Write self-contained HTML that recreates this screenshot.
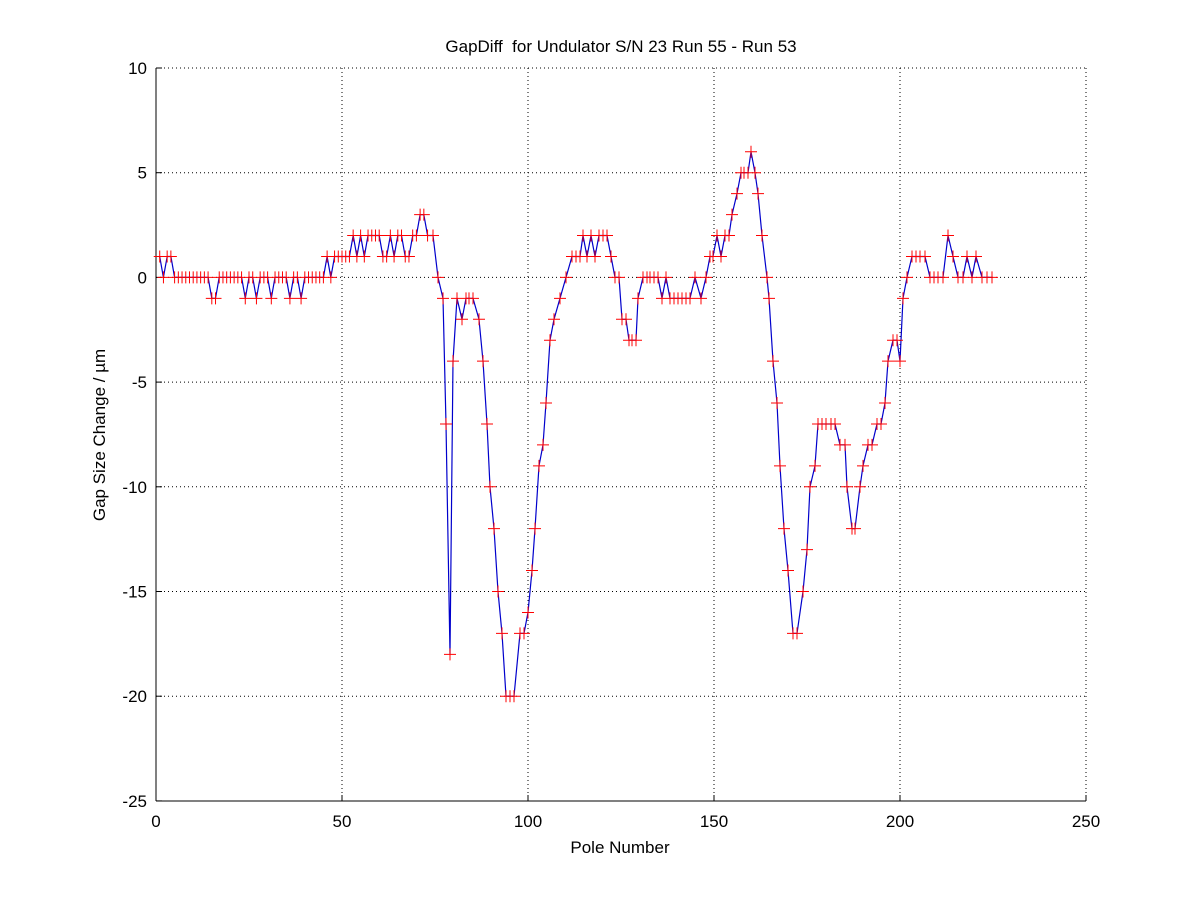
<!DOCTYPE html>
<html><head><meta charset="utf-8"><style>
html,body{margin:0;padding:0;background:#fff;}
svg{display:block;font-family:"Liberation Sans",sans-serif;}
</style></head><body>
<svg id="s" width="1200" height="900" xmlns="http://www.w3.org/2000/svg">
<rect width="1200" height="900" fill="#fff"/>
<text x="621" y="52" font-size="17" text-anchor="middle">GapDiff&#160; for Undulator S/N 23 Run 55 - Run 53</text>
<text x="620" y="853" font-size="17" text-anchor="middle">Pole Number</text>
<text transform="translate(105,435) rotate(-90)" font-size="17" text-anchor="middle">Gap Size Change / µm</text>
<g id="g"></g>
</svg>
<script>
var X0=156,X1=1086,Y0=68,Y1=801;
function yv(v){return 277.4-20.94*v;}
var h='';
var xt=[0,50,100,150,200,250];
for(var i=0;i<xt.length;i++){var x=X0+(X1-X0)*xt[i]/250;
 if(i>0)h+='<line x1="'+x+'" y1="'+Y0+'" x2="'+x+'" y2="'+Y1+'" stroke="#000" stroke-dasharray="1,3"/>';
 h+='<line x1="'+x+'" y1="'+Y1+'" x2="'+x+'" y2="'+(Y1-6)+'" stroke="#000"/>';
 h+='<text x="'+x+'" y="'+(Y1+26)+'" font-size="17" text-anchor="middle">'+xt[i]+'</text>';}
for(var v=10;v>=-25;v-=5){var y=yv(v);
 if(v>-25)h+='<line x1="'+X0+'" y1="'+y+'" x2="'+X1+'" y2="'+y+'" stroke="#000" stroke-dasharray="1,3"/>';
 h+='<line x1="'+X0+'" y1="'+y+'" x2="'+(X0+6)+'" y2="'+y+'" stroke="#000"/>';
 h+='<text x="'+(X0-9)+'" y="'+(y+6)+'" font-size="17" text-anchor="end">'+v+'</text>';}
h+='<line x1="'+X0+'" y1="'+Y0+'" x2="'+X0+'" y2="'+Y1+'" stroke="#000"/>';
h+='<line x1="'+X0+'" y1="'+Y1+'" x2="'+X1+'" y2="'+Y1+'" stroke="#000"/>';
var A=[1,0,1,1,0,0,0,0,0,0,0,0,0,0,-1,-1,0,0,0,0,0,0,0,-1,0,0,-1,0,0,0,-1,0,0,0,0,-1,0,0,-1,0,0,0,0,0,0,1,0,1,1,1,1,1,2,1,2,1,2,2,2,2,1,1,2,1,2,2,1,1,2,2,3,3,2];
var P=[];
for(var i=0;i<A.length;i++)P.push([156+3.72*(i+1),A[i]]);
var B=[433,2,438,0,443,-1,446,-7,450,-18,453,-4,457,-1,462,-2,466,-1,469,-1,473,-1,479,-2,483,-4,487,-7,490,-10,494,-12,498,-15,502,-17,506,-20,510,-20,514,-20,520,-17,524,-17,528,-16,532,-14,535,-12,539,-9,543,-8,546,-6,550,-3,554,-2,560,-1,566,0,572,1,576,1,580,1,583,2,587,1,591,2,595,1,599,2,603,2,607,2,611,1,615,0,619,0,622,-2,626,-2,629,-3,632,-3,636,-3,638,-1,643,0,647,0,650,0,654,0,658,0,662,-1,666,0,670,-1,674,-1,678,-1,682,-1,686,-1,690,-1,695,0,701,-1,706,0,710,1,713,1,717,2,721,1,725,2,729,2,732,3,737,4,741,5,744,5,748,5,751,6,755,5,758,4,762,2,767,0,769,-1,773,-4,777,-6,780,-9,784,-12,788,-14,793,-17,797,-17,803,-15,807,-13,810,-10,815,-9,818,-7,822,-7,826,-7,831,-7,835,-7,840,-8,845,-8,847,-10,852,-12,855,-12,860,-10,863,-9,868,-8,872,-8,877,-7,881,-7,885,-6,888,-4,893,-3,897,-3,900,-4,903,-1,907,0,912,1,916,1,920,1,925,1,930,0,934,0,938,0,943,0,948,2,953,1,958,0,963,0,967,1,972,0,976,1,982,0,987,0,992,0];
for(var i=0;i<B.length;i+=2)P.push([B[i],B[i+1]]);
var pts=P.map(function(p){return p[0].toFixed(1)+','+yv(p[1]).toFixed(1)}).join(' ');
h+='<polyline points="'+pts+'" fill="none" stroke="#0000cc" stroke-width="1.2"/>';
var m='';
P.forEach(function(p){var x=p[0],y=yv(p[1]);m+='M'+(x-6)+' '+y+'H'+(x+6)+'M'+x+' '+(y-6)+'V'+(y+6);});
h+='<path d="'+m+'" stroke="#ff0000" stroke-width="1" fill="none"/>';
document.getElementById('g').innerHTML=h;
</script>
</body></html>
